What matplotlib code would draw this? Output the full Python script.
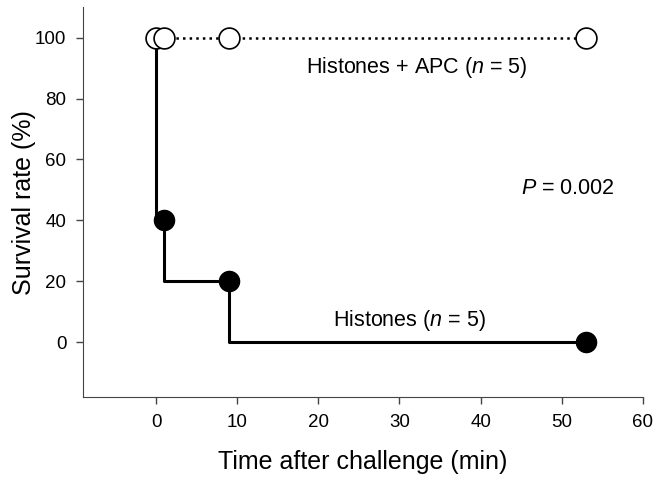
import matplotlib
matplotlib.use("Agg")
import matplotlib.pyplot as plt

plt.rcParams['font.family'] = ['Liberation Sans', 'DejaVu Sans']
plt.rcParams['mathtext.fontset'] = 'custom'
plt.rcParams['mathtext.rm'] = 'Liberation Sans'
plt.rcParams['mathtext.it'] = 'Liberation Sans:italic'

# Histones alone (Kaplan-Meier style steps)
hist_time = [0, 0, 1, 9, 53]
hist_surv = [100, 40, 20, 0, 0]
hist_mark_time = [1, 9, 53]
hist_mark_surv = [40, 20, 0]

# Histones + APC
apc_time = [0, 1, 9, 53]
apc_surv = [100, 100, 100, 100]

x_ticks = [0, 10, 20, 30, 40, 50, 60]
y_ticks = [0, 20, 40, 60, 80, 100]

fig = plt.figure(figsize=(6.56, 4.8), dpi=100)
ax = fig.add_axes([0.1265, 0.173, 0.8535, 0.812])

# step curve for histones
ax.plot(hist_time, hist_surv, drawstyle="steps-post", color="black", linewidth=2.2, zorder=2)
ax.plot(hist_mark_time, hist_mark_surv, linestyle="none", marker="o", markersize=14.5,
        color="black", zorder=4)

# dotted line for histones + APC
ax.plot(apc_time, apc_surv, linestyle=":", color="black", linewidth=1.8, marker="o",
        markersize=15, markerfacecolor="white", markeredgecolor="black",
        markeredgewidth=1.2, zorder=3)

ax.text(32.1, 90.2, "Histones + APC ($\\it{n}$ = 5)", ha="center", va="center", fontsize=15.5)
ax.text(50.7, 50.6, "$\\it{P}$ = 0.002", ha="center", va="center", fontsize=15.5)
ax.text(31.2, 7.2, "Histones ($\\it{n}$ = 5)", ha="center", va="center", fontsize=15.5)

ax.set_xlim(-9, 60)
ax.set_ylim(-18, 110)
ax.set_xticks(x_ticks)
ax.set_yticks(y_ticks)
ax.spines["top"].set_visible(False)
ax.spines["right"].set_visible(False)
ax.spines["left"].set_color("#444444")
ax.spines["bottom"].set_color("#444444")
ax.tick_params(direction="out", length=5, width=1, color="#444444", labelsize=13.5, pad=7)
ax.set_xlabel("Time after challenge (min)", fontsize=18, labelpad=14)
ax.set_ylabel("Survival rate (%)", fontsize=18, labelpad=-1)

fig.savefig("out.png", dpi=100)
